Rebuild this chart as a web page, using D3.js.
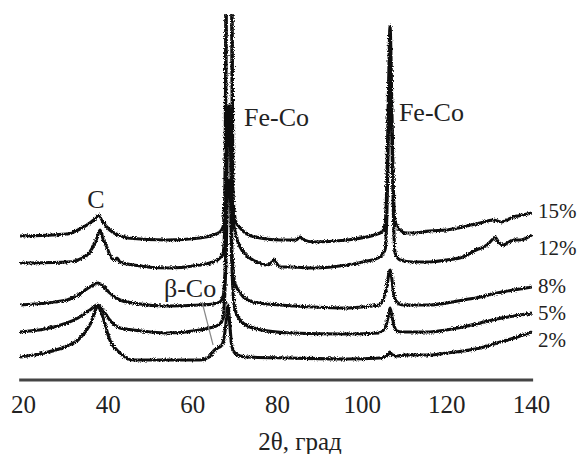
<!DOCTYPE html>
<html>
<head>
<meta charset="utf-8">
<script src="https://cdn.jsdelivr.net/npm/d3@7"></script>
</head>
<body style="margin:0">
<div id="chart"></div>
<script>
// tick labels of the 2theta axis
const xTicks = [20, 40, 60, 80, 100, 120, 140];

// Co content of each pattern, top to bottom
const seriesLabels = ["15%", "12%", "8%", "5%", "2%"];

// [2theta, intensity (arb. units, already offset)]
const s15 = [
  [19.3, 144], [30.4, 146], [33.0, 150], [35.8, 157], [37.0, 161], [37.9, 165], [38.9, 158],
  [40.5, 150], [42.5, 145], [44.6, 142], [54.0, 140], [61.8, 142], [64.9, 145], [66.5, 148],
  [67.25, 153], [67.7, 185], [67.95, 400], [68.65, 900], [69.35, 400], [69.6, 185], [70.3, 158],
  [71.3, 152], [72.9, 146], [76.0, 142], [80.7, 140], [84.5, 140], [85.4, 143], [86.3, 140],
  [88.5, 138], [96.5, 140], [104.35, 147], [105.5, 155], [105.9, 190], [106.3, 280], [106.7, 354],
  [107.1, 280], [107.5, 190], [107.9, 158], [109.05, 150], [110.5, 147], [112.1, 147], [116.0, 149],
  [120.2, 150], [124.0, 153], [128.0, 157], [131.0, 160], [133.0, 158], [135.8, 163], [138.0, 165],
  [140.2, 167]
];
const s12 = [
  [19.3, 117], [30.4, 118], [34.0, 122], [35.8, 128], [37.3, 140], [38.2, 150], [39.0, 140],
  [39.8, 133], [40.5, 125], [41.7, 120], [42.2, 122], [42.9, 118], [46.0, 115], [54.0, 112],
  [61.8, 115], [64.9, 118], [66.5, 122], [67.25, 127], [67.75, 165], [68.05, 400], [68.7, 900],
  [69.3, 400], [69.55, 165], [70.3, 145], [71.3, 133], [72.9, 124], [74.3, 120], [77.6, 115],
  [78.6, 117], [79.3, 121], [80.0, 116], [80.7, 113], [83.1, 113], [88.5, 112], [96.5, 115],
  [100.3, 118], [104.3, 123], [105.5, 130], [105.95, 165], [106.35, 250], [106.75, 330], [107.1, 250],
  [107.5, 165], [107.9, 127], [109.1, 120], [112.0, 118], [116.1, 118], [120.0, 120], [123.9, 123],
  [127.0, 130], [129.6, 135], [131.0, 141], [131.5, 143], [132.3, 138], [133.4, 135], [135.8, 140],
  [137.4, 140], [140.2, 145]
];
const s8 = [
  [19.3, 75], [30.4, 80], [33.0, 85], [35.8, 93], [37.7, 97], [39.2, 93], [40.5, 87],
  [42.9, 80], [46.0, 77], [54.0, 74], [61.8, 75], [64.9, 76], [66.5, 78], [67.25, 83],
  [67.9, 130], [68.3, 240], [68.65, 275], [69.0, 240], [69.35, 130], [70.0, 98], [71.3, 87],
  [74.3, 78], [80.7, 75], [88.5, 73], [96.5, 72], [100.0, 73], [104.0, 75], [105.3, 82],
  [106.0, 95], [106.5, 108], [106.75, 110], [107.1, 102], [107.5, 88], [108.0, 80], [108.9, 76],
  [110.0, 75], [116.1, 75], [120.0, 77], [124.0, 80], [128.0, 83], [132.0, 87], [136.0, 90],
  [140.2, 93]
];
const s5 = [
  [19.3, 48], [30.4, 57], [33.0, 62], [35.8, 70], [37.7, 75], [38.5, 72], [40.5, 60],
  [42.9, 52], [46.0, 50], [54.0, 47], [61.8, 50], [64.9, 53], [66.5, 56], [67.25, 62],
  [67.95, 120], [68.35, 190], [68.65, 200], [68.95, 190], [69.3, 120], [70.0, 72], [71.3, 60],
  [74.3, 52], [83.1, 47], [96.5, 46], [104.0, 47], [105.5, 52], [106.2, 62], [106.7, 72],
  [107.1, 65], [107.6, 55], [108.3, 49], [109.5, 48], [116.1, 48], [120.0, 50], [124.0, 53],
  [128.0, 57], [132.0, 61], [136.0, 64], [140.2, 67]
];
const s2 = [
  [19.3, 23], [25.0, 27], [30.4, 34], [33.0, 40], [35.8, 55], [37.7, 73], [38.7, 65],
  [40.5, 40], [42.9, 27], [46.0, 20], [54.0, 20], [61.8, 20], [64.0, 23], [65.0, 29],
  [66.0, 32], [66.8, 34], [67.4, 40], [67.9, 55], [68.4, 75], [68.8, 58], [69.2, 38],
  [69.6, 30], [70.3, 26], [71.3, 24], [72.9, 23], [83.1, 22], [96.5, 21], [104.3, 22],
  [106.0, 24], [106.6, 28], [107.3, 25], [108.5, 24], [110.0, 25], [116.0, 25], [120.2, 27],
  [124.0, 29], [128.0, 32], [132.0, 37], [136.0, 42], [140.2, 48]
];
const seriesData = [s15, s12, s8, s5, s2];

// where the percent labels sit, in intensity units
const labelLevels = [162, 125, 87, 60, 33];

// phase annotations: text, 2theta, intensity
const peakNotes = [
  ["C", 37.25, 172, "middle"],
  ["Fe-Co", 72.2, 254, "start"],
  ["Fe-Co", 108.8, 259, "start"],
  ["β-Co", 53.3, 83, "start"]
];

const width = 580, height = 454;
const serif = "\"Liberation Serif\"";

const svg = d3.select("#chart")
  .append("svg")
  .attr("width", width)
  .attr("height", height);

const x = d3.scaleLinear().domain([20, 140]).range([23, 531]);
const y = d3.scaleLinear().domain([0, 366]).range([380, 14]);

const defs = svg.append("defs");
defs.append("clipPath").attr("id", "plotclip")
  .append("rect")
  .attr("x", 0).attr("y", y(366))
  .attr("width", width).attr("height", y(0) - y(366));

// roughness so the traces look like measured data
const rough = defs.append("filter").attr("id", "rough")
  .attr("filterUnits", "userSpaceOnUse")
  .attr("x", 0).attr("y", 0).attr("width", width).attr("height", height);
rough.append("feTurbulence")
  .attr("type", "fractalNoise")
  .attr("baseFrequency", 1.1)
  .attr("numOctaves", 2)
  .attr("seed", 4)
  .attr("result", "noise");
rough.append("feDisplacementMap")
  .attr("in", "SourceGraphic")
  .attr("in2", "noise")
  .attr("scale", 3.8)
  .attr("xChannelSelector", "R")
  .attr("yChannelSelector", "G");

const line = d3.line()
  .x(d => x(d[0]))
  .y(d => y(d[1]))
  .curve(d3.curveMonotoneX);

svg.append("g")
  .attr("clip-path", "url(#plotclip)")
  .append("g")
  .attr("filter", "url(#rough)")
  .selectAll("path")
  .data(seriesData)
  .enter()
  .append("path")
  .attr("d", line)
  .attr("fill", "none")
  .attr("stroke", "#111")
  .attr("stroke-width", 3.1)
  .attr("stroke-linejoin", "round");

// x axis
const xAxis = svg.append("g")
  .attr("transform", `translate(0, ${y(0)})`)
  .call(d3.axisBottom(x).tickValues(xTicks).tickSize(0).tickPadding(15));

xAxis.select(".domain")
  .attr("d", `M${x(19.1)},0H${x(140.5)}`)
  .style("stroke", "#444")
  .style("stroke-width", 3);

xAxis.selectAll("text")
  .style("font-family", serif)
  .style("font-size", "25px")
  .style("fill", "#222");

svg.append("text")
  .attr("x", 300)
  .attr("y", 450)
  .attr("text-anchor", "middle")
  .style("font-family", serif)
  .style("font-size", "25px")
  .style("fill", "#222")
  .text("2θ, град");

// percent labels on the right
svg.selectAll(".pct")
  .data(seriesLabels)
  .enter()
  .append("text")
  .attr("class", "pct")
  .attr("x", 538)
  .attr("y", (d, i) => y(labelLevels[i]))
  .style("font-family", serif)
  .style("font-size", "21px")
  .style("fill", "#222")
  .text(d => d);

// phase labels
svg.selectAll(".note")
  .data(peakNotes)
  .enter()
  .append("text")
  .attr("class", "note")
  .attr("x", d => x(d[1]))
  .attr("y", d => y(d[2]))
  .attr("text-anchor", d => d[3])
  .style("font-family", serif)
  .style("font-size", "26px")
  .style("fill", "#222")
  .text(d => d[0]);

// leader from the beta-Co label to the shoulder
svg.append("line")
  .attr("x1", x(62.3)).attr("y1", y(78))
  .attr("x2", x(64.9)).attr("y2", y(35))
  .attr("stroke", "#888")
  .attr("stroke-width", 1.2);
</script>
</body>
</html>
